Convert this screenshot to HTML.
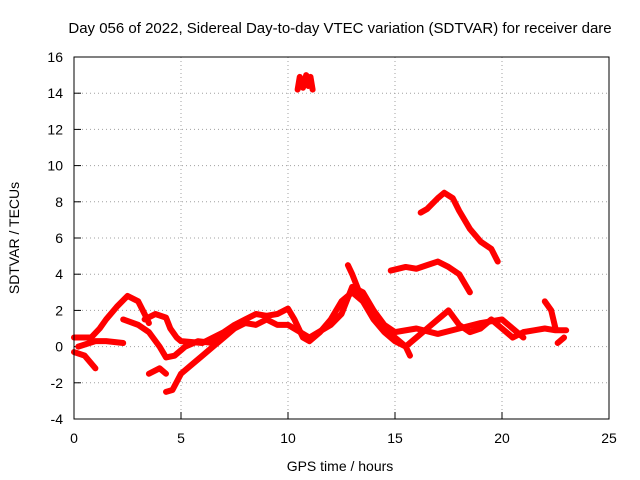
<!DOCTYPE html>
<html><head><meta charset="utf-8"><style>
body{margin:0;background:#fff}
svg{display:block;font-family:"Liberation Sans",sans-serif}
</style></head><body>
<svg id="chart" width="640" height="480">
<text x="340" y="33" text-anchor="middle" font-size="15">Day 056 of 2022, Sidereal Day-to-day VTEC variation (SDTVAR) for receiver dare</text>
<g id="grid"></g>
<g id="ticks"></g>
<g id="series"></g>
<rect x="74" y="57" width="535" height="362" fill="none" stroke="#000"/>
<text x="340" y="471" text-anchor="middle" font-size="14">GPS time / hours</text>
<text transform="translate(19,238) rotate(-90)" text-anchor="middle" font-size="14">SDTVAR / TECUs</text>
</svg>
<script>
const xTicks=[0,5,10,15,20,25];
const yTicks=[-4,-2,0,2,4,6,8,10,12,14,16];
const trackA=[[0,0.5],[0.8,0.5],[1.2,1],[1.5,1.5],[2,2.2],[2.5,2.8],[3,2.5],[3.3,1.8],[3.5,1.3]];
const trackB=[[0,-0.3],[0.5,-0.5],[1,-1.2]];
const trackC=[[0.2,0],[1,0.3],[1.5,0.3],[2.3,0.2]];
const trackD=[[3.3,1.5],[3.8,1.8],[4.3,1.6],[4.5,1],[4.8,0.5],[5,0.3],[6,0.2],[6.5,0.5],[7,0.8],[7.5,1.2],[8,1.5],[8.5,1.8],[9,1.7],[9.5,1.8],[10,2.1],[10.3,1.5],[10.7,0.5],[11,0.3],[11.5,0.8],[12,1.5],[12.5,2.5],[13,3],[13.5,2.5],[14,1.5],[14.5,0.8],[15,0.3],[15.5,0],[16,0.5],[16.5,1],[17,1.5],[17.5,2],[18,1.2],[18.5,0.8],[19,1],[19.5,1.5],[20,1],[20.5,0.5],[21,0.8],[21.5,0.9],[22,1],[22.5,0.9],[23,0.9]];
const trackE=[[2.3,1.5],[3,1.2],[3.5,0.8],[4,0],[4.3,-0.6],[4.7,-0.5],[5.2,0],[5.8,0.3],[6.5,0.2],[7,0.6]];
const trackF=[[3.5,-1.5],[4,-1.2],[4.3,-1.5]];
const trackG=[[4.3,-2.5],[4.6,-2.4],[5,-1.5],[5.5,-1],[6,-0.5],[6.5,0],[7,0.5],[7.5,1],[8,1.3],[8.5,1.2],[9,1.5],[9.5,1.2],[10,1.2],[11,0.5],[12,1.2],[12.5,1.8],[13,3.3],[13.5,3],[14,2],[14.5,1.2],[15,0.8],[16,1],[17,0.7],[18,1],[19,1.3],[20,1.5],[21,0.5]];
const trackH=[[10.45,14.2],[10.55,14.9],[10.7,14.3],[10.85,15],[10.95,14.4],[11.05,14.9],[11.15,14.2]];
const trackI=[[16.2,7.4],[16.5,7.6],[17,8.2],[17.3,8.5],[17.7,8.2],[18,7.5],[18.5,6.5],[19,5.8],[19.5,5.4],[19.8,4.7]];
const trackJ=[[14.8,4.2],[15.5,4.4],[16,4.3],[16.5,4.5],[17,4.7],[17.5,4.4],[18,4],[18.5,3]];
const trackK=[[12.8,4.5],[13,4],[13.5,2.5],[14,1.8],[14.5,1],[15,0.5],[15.5,0],[15.7,-0.5]];
const trackL=[[22,2.5],[22.3,2],[22.5,1]];
const trackM=[[22.6,0.2],[22.9,0.5]];
const tracks=[trackA,trackB,trackC,trackD,trackE,trackF,trackG,trackH,trackI,trackJ,trackK,trackL,trackM];
const X=v=>74+v*(535/25), Y=v=>419-(v+4)*(362/20);
const NS="http://www.w3.org/2000/svg";
const grid=document.getElementById('grid'),tk=document.getElementById('ticks'),ser=document.getElementById('series');
function mk(tag,attrs,parent){const e=document.createElementNS(NS,tag);for(const k in attrs)e.setAttribute(k,attrs[k]);parent.appendChild(e);return e;}
xTicks.forEach(t=>{
 if(t>0&&t<25){const g=mk('line',{x1:X(t),x2:X(t),y1:57,y2:419,stroke:'#a0a0a0','stroke-dasharray':'1,3'},grid);
 
 }
 const l=mk('line',{x1:X(t),x2:X(t),y1:419,y2:412,stroke:'#000'},tk);
 
 
 const s=mk('text',{x:X(t),y:443,'text-anchor':'middle','font-size':'14'},tk);s.textContent=t;
 
 
});
yTicks.forEach(t=>{
 if(t>-4&&t<16){const g=mk('line',{x1:74,x2:609,y1:Y(t),y2:Y(t),stroke:'#a0a0a0','stroke-dasharray':'1,3'},grid);
 
 }
 const l=mk('line',{x1:74,x2:81,y1:Y(t),y2:Y(t),stroke:'#000'},tk);
 
 
 const s=mk('text',{x:63,y:Y(t)+5,'text-anchor':'end','font-size':'14'},tk);s.textContent=t;
 
 
});
tracks.forEach(tr=>{
 const p=mk('polyline',{points:tr.map(d=>X(d[0])+','+Y(d[1])).join(' '),fill:'none',stroke:'#f00','stroke-width':'6','stroke-linejoin':'round','stroke-linecap':'round'},ser);
 
 
});
</script>
</body></html>
